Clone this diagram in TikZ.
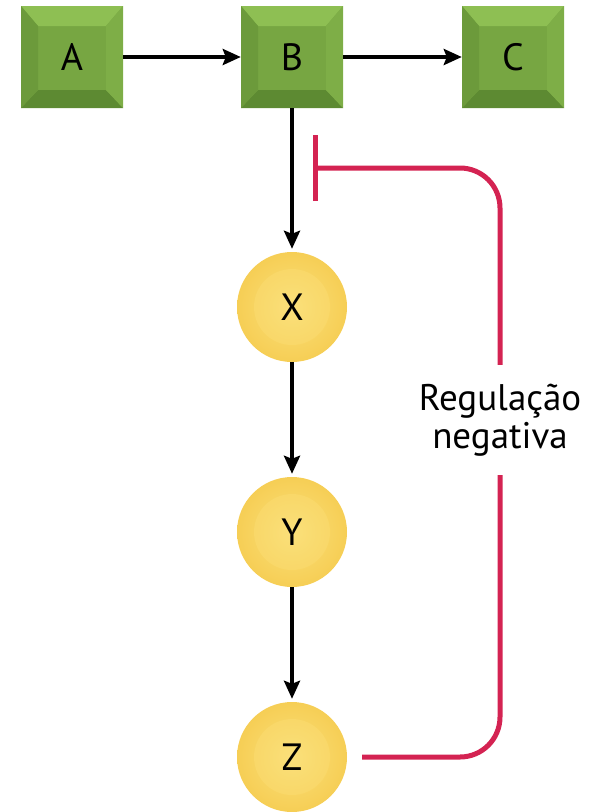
\documentclass[tikz,border=0pt]{standalone}
\usepackage{fontspec}
\setmainfont{PT Sans}
\usepackage{tikz}
\usetikzlibrary{arrows.meta}

\definecolor{verde}{HTML}{77A642}
\definecolor{verdeclaro}{HTML}{8EBF53}
\definecolor{verdeesq}{HTML}{6C9A3B}
\definecolor{verdedir}{HTML}{7EAE47}
\definecolor{verdeescuro}{HTML}{5D8A32}
\definecolor{amarelo}{HTML}{F6CE55}
\definecolor{amareloclaro}{HTML}{FBE07A}
\definecolor{vermelho}{HTML}{D42352}

\begin{document}
\begin{tikzpicture}[x=1pt,y=1pt,
	caixa/.style={minimum width=102pt, minimum height=102pt, fill=verde, font=\fontsize{38}{42}\selectfont,
		path picture={
			\path (path picture bounding box.north west) coordinate (nw)
				(path picture bounding box.north east) coordinate (ne)
				(path picture bounding box.south west) coordinate (sw)
				(path picture bounding box.south east) coordinate (se);
			\fill[verdeclaro] (nw) -- (ne) -- ([shift={(-17pt,-20pt)}]ne) -- ([shift={(17pt,-20pt)}]nw) -- cycle;
			\fill[verdeescuro] (sw) -- (se) -- ([shift={(-17pt,18pt)}]se) -- ([shift={(17pt,18pt)}]sw) -- cycle;
			\fill[verdeesq] (nw) -- (sw) -- ([shift={(17pt,18pt)}]sw) -- ([shift={(17pt,-20pt)}]nw) -- cycle;
			\fill[verdedir] (ne) -- (se) -- ([shift={(-17pt,18pt)}]se) -- ([shift={(-17pt,-20pt)}]ne) -- cycle;
		}},
	bola/.style={circle, minimum size=110pt, inner color=amareloclaro, outer color=amarelo, font=\fontsize{38}{42}\selectfont,
		path picture={\fill[amareloclaro, opacity=0.35] (path picture bounding box.center) circle (38pt);}},
	seta/.style={-{Stealth[length=18pt, width=16pt, inset=3pt]}, line width=4pt},
	inibe/.style={draw=vermelho, line width=5pt, rounded corners=40pt}]
	
	\useasboundingbox (0,0) rectangle (606,-812);
	
	% genes
	\node [caixa] (A) at (72,-57) {A};
	\node [caixa] (B) at (292,-57) {B};
	\node [caixa] (C) at (513,-57) {C};
	
	% produtos
	\node [bola] (X) at (292,-307) {X};
	\node [bola] (Y) at (292,-532) {Y};
	\node [bola] (Z) at (292,-757) {Z};
	
	\node [align=center, minimum height=110pt, font=\fontsize{37}{38}\selectfont] (texto) at (500,-420) {Regulação\\negativa};
	\coordinate (barra) at (313,-168);
	
	\draw [seta] (A) -- (B);
	\draw [seta] (B) -- (C);
	\draw [seta, shorten >=3pt] (B) -- (X);
	\draw [seta, shorten >=3pt] (X) -- (Y);
	\draw [seta, shorten >=3pt] (Y) -- (Z);
	
	% laco de retroalimentacao
	\draw [inibe, shorten <=15pt] (Z) -- (Z -| texto) -- (texto.south);
	\draw [inibe, -{Bar[width=66pt]}] (texto.north) -- (barra -| texto) -- (barra);
	
\end{tikzpicture}
\end{document}
